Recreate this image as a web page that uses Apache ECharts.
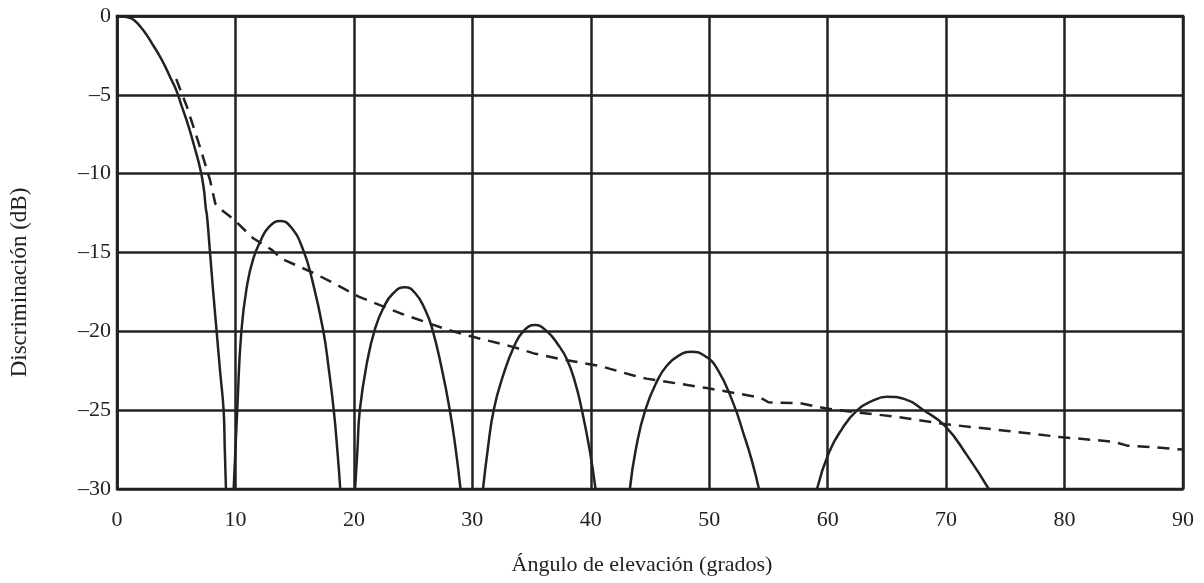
<!DOCTYPE html>
<html>
<head>
<meta charset="utf-8">
<script src="https://cdn.jsdelivr.net/npm/echarts@6/dist/echarts.min.js"></script>
<style>
  html, body { margin: 0; padding: 0; background: #fff; }
  #chart { width: 1204px; height: 583px; }
</style>
</head>
<body>
<div id="chart"></div>
<script>
// discriminación vs ángulo de elevación
const xTicks = [0, 10, 20, 30, 40, 50, 60, 70, 80, 90];
const yTicks = [0, -5, -10, -15, -20, -25, -30];

// lóbulo principal + lóbulos laterales (línea continua)
const mainLobe = [[0,0],[0.5,-0.02],[1,-0.1],[1.5,-0.3],[2,-0.7],[2.5,-1.2],[3,-1.8],[3.5,-2.4],
  [4,-3.1],[4.5,-3.9],[5,-4.7],[5.5,-5.8],[6,-6.9],[6.5,-8.2],[7,-9.6],[7.3,-10.8],[7.5,-12.2],
  [7.6,-12.7],[7.8,-14.5],[8.1,-17.3],[8.4,-19.9],[8.7,-22.5],[9.0,-25],[9.1,-27.5],[9.2,-30]];
const lobe1 = [[9.85,-30],[10.0,-27.5],[10.15,-25],[10.5,-20],[11,-17],[11.5,-15.4],[12.1,-14.3],
  [12.8,-13.4],[13.8,-13.0],[14.7,-13.4],[15.7,-14.8],[16.5,-16.8],[17.4,-19.9],[17.9,-22.5],
  [18.3,-25],[18.6,-27.5],[18.85,-30]];
const lobe2 = [[20.1,-30],[20.3,-27.5],[20.5,-25],[21.1,-22],[21.8,-19.8],[22.5,-18.5],[23.3,-17.6],
  [24.3,-17.2],[25.2,-17.6],[26.0,-18.6],[26.6,-19.8],[27.4,-22.3],[28.1,-25],[28.6,-27.5],[29.0,-30]];
const lobe3 = [[30.9,-30],[31.3,-27.5],[31.8,-25],[32.6,-22.8],[33.5,-21],[34.3,-20.0],[35.3,-19.6],
  [36.3,-20.0],[37.2,-20.8],[38.0,-21.8],[38.7,-23.3],[39.25,-25],[39.9,-27.5],[40.4,-30]];
const lobe4 = [[43.3,-30],[43.8,-27.5],[44.6,-25],[45.7,-23],[46.4,-22.2],[47.3,-21.6],[48.5,-21.3],
  [49.5,-21.5],[50.65,-22.35],[52.05,-24.6],[52.9,-26.5],[53.6,-28.2],[54.2,-30]];
const lobe5 = [[59.1,-30],[60.1,-27.7],[61.2,-26.2],[62.5,-25.0],[63.8,-24.4],[65.0,-24.15],
  [66.5,-24.3],[68.1,-25.0],[69.9,-26.0],[71.8,-27.9],[73.6,-30]];

// envolvente (línea discontinua)
const envelope = [[5,-4],[5.9,-5.75],[7,-8.3],[7.85,-10.4],[8.3,-11.9],[9,-12.4],[9.85,-12.9],
  [11.5,-14.1],[13.1,-14.85],[13.9,-15.4],[16.6,-16.3],[18.3,-16.95],[20.4,-17.8],[23.9,-18.85],
  [27.9,-19.9],[29.8,-20.3],[33.5,-21.0],[35.2,-21.4],[37.7,-21.8],[40.8,-22.2],[43.6,-22.8],
  [44.7,-23.0],[49.8,-23.6],[54.3,-24.2],[55,-24.5],[57.7,-24.56],[59.9,-24.9],[62,-25.1],
  [65.6,-25.4],[70.1,-25.9],[75,-26.3],[79.6,-26.7],[84.1,-27.0],[85.3,-27.25],[87.5,-27.35],[90,-27.5]];

const ink = '#222';
const font = 'Liberation Serif';

const solidSeries = [mainLobe, lobe1, lobe2, lobe3, lobe4, lobe5].map(function (d) {
  return {
    type: 'line',
    data: d,
    showSymbol: false,
    smooth: 0.5,
    lineStyle: { color: ink, width: 2.5 },
    z: 5
  };
});

const chart = echarts.init(document.getElementById('chart'));
chart.setOption({
  animation: false,
  grid: {
    left: 117, right: 21, top: 16, bottom: 94,
    show: true, borderColor: ink, borderWidth: 2.5
  },
  xAxis: {
    type: 'value',
    min: xTicks[0], max: xTicks[xTicks.length - 1], interval: 10,
    name: 'Ángulo de elevación (grados)',
    nameLocation: 'middle',
    nameGap: 65,
    nameTextStyle: { fontFamily: font, fontSize: 22, color: ink, padding: [0, 16, 0, 0] },
    axisLine: { lineStyle: { color: ink, width: 2.5 } },
    axisTick: { show: false },
    axisLabel: { fontFamily: font, fontSize: 22, color: ink, margin: 20 },
    splitLine: { lineStyle: { color: ink, width: 2.5 } }
  },
  yAxis: {
    type: 'value',
    min: yTicks[yTicks.length - 1], max: yTicks[0], interval: 5,
    name: 'Discriminación (dB)',
    nameLocation: 'middle',
    nameGap: 86,
    nameTextStyle: { fontFamily: font, fontSize: 23, color: ink, padding: [0, 60, 0, 0] },
    axisLine: { lineStyle: { color: ink, width: 2.5 } },
    axisTick: { show: false },
    axisLabel: {
      fontFamily: font, fontSize: 22, color: ink, margin: 6,
      formatter: function (v) { return String(v).replace('-', '–'); }
    },
    splitLine: { lineStyle: { color: ink, width: 2.5 } }
  },
  series: solidSeries.concat([{
    type: 'line',
    data: envelope,
    showSymbol: false,
    lineStyle: { color: ink, width: 2.5, type: [12, 8] },
    z: 4
  }])
});
</script>
</body>
</html>
